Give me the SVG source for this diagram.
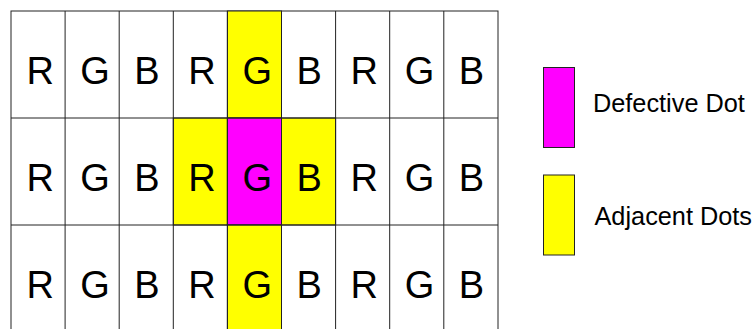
<svg xmlns="http://www.w3.org/2000/svg" width="755" height="329" viewBox="0 0 755 329">
<style>
.cell{fill:#fff;stroke:#222;stroke-width:1}
.def{fill:#ff00ff;stroke:#222;stroke-width:1}
.adj{fill:#ffff00;stroke:#222;stroke-width:1}
.lt{font-family:"Liberation Sans",Arial,sans-serif;font-size:38px;fill:#000}
.lg{font-family:"Liberation Sans",Arial,sans-serif;font-size:25.3px;fill:#000}
</style>
<rect width="755" height="329" fill="#fff"/>
<g id="grid">
<rect class="cell" x="11" y="11" width="487" height="321"/>
<rect class="adj" x="227.4" y="11" width="54.1" height="107"/>
<rect class="adj" x="173.3" y="118" width="54.1" height="107"/>
<rect class="def" x="227.4" y="118" width="54.1" height="107"/>
<rect class="adj" x="281.5" y="118" width="54.1" height="107"/>
<rect class="adj" x="227.4" y="225" width="54.1" height="107"/>
<g stroke="#222" stroke-width="1">
<line x1="65.1" y1="11" x2="65.1" y2="329"/>
<line x1="119.2" y1="11" x2="119.2" y2="329"/>
<line x1="173.3" y1="11" x2="173.3" y2="329"/>
<line x1="227.4" y1="11" x2="227.4" y2="329"/>
<line x1="281.5" y1="11" x2="281.5" y2="329"/>
<line x1="335.6" y1="11" x2="335.6" y2="329"/>
<line x1="389.7" y1="11" x2="389.7" y2="329"/>
<line x1="443.8" y1="11" x2="443.8" y2="329"/>
<line x1="11" y1="118" x2="498" y2="118"/>
<line x1="11" y1="225" x2="498" y2="225"/>
</g>
</g>
<g id="row1" class="lt">
<text x="26.5" y="84">R</text><text x="80.3" y="84">G</text><text x="134.3" y="84">B</text>
<text x="188.3" y="84">R</text><text x="242.4" y="84">G</text><text x="296.5" y="84">B</text>
<text x="350.6" y="84">R</text><text x="404.7" y="84">G</text><text x="458.8" y="84">B</text>
</g>
<g id="row2" class="lt">
<text x="26.5" y="190.5">R</text><text x="80.3" y="190.5">G</text><text x="134.3" y="190.5">B</text>
<text x="188.3" y="190.5">R</text><text x="242.4" y="190.5">G</text><text x="296.5" y="190.5">B</text>
<text x="350.6" y="190.5">R</text><text x="404.7" y="190.5">G</text><text x="458.8" y="190.5">B</text>
</g>
<g id="row3" class="lt">
<text x="26.5" y="297.5">R</text><text x="80.3" y="297.5">G</text><text x="134.3" y="297.5">B</text>
<text x="188.3" y="297.5">R</text><text x="242.4" y="297.5">G</text><text x="296.5" y="297.5">B</text>
<text x="350.6" y="297.5">R</text><text x="404.7" y="297.5">G</text><text x="458.8" y="297.5">B</text>
</g>
<g id="legend-defective">
<rect class="def" x="543.5" y="67.5" width="31" height="80"/>
<text class="lg" x="593" y="111.7">Defective Dot</text>
</g>
<g id="legend-adjacent">
<rect class="adj" x="543.5" y="175" width="31" height="80"/>
<text class="lg" x="594.5" y="224.5">Adjacent Dots</text>
</g>
</svg>
